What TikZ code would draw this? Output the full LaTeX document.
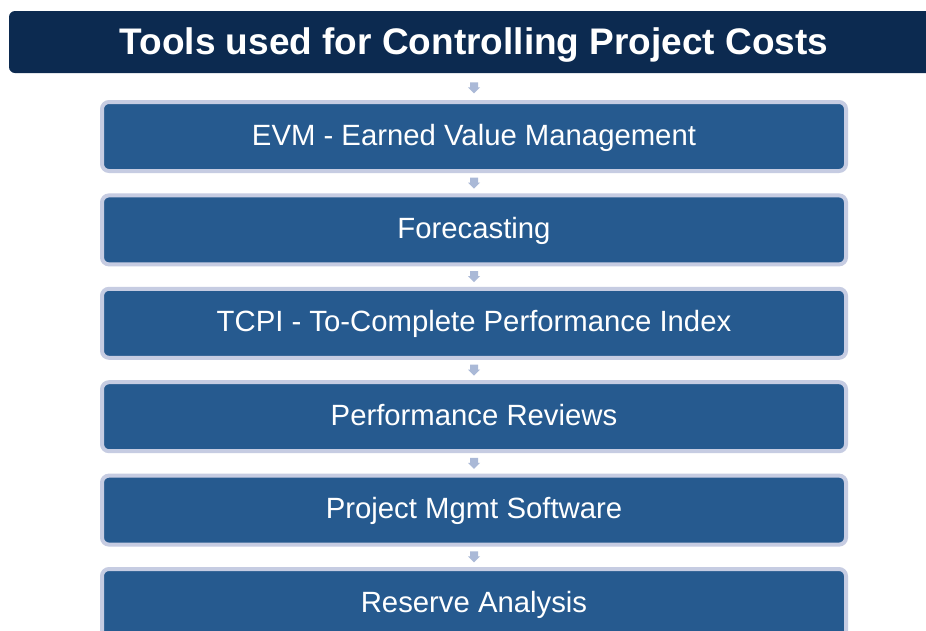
\documentclass[tikz,border=0pt]{standalone}
\usepackage{fontspec}
\setmainfont{Liberation Sans}
\usetikzlibrary{calc}
\definecolor{navy}{HTML}{0C2A50}
\definecolor{boxblue}{HTML}{265A8F}
\definecolor{ringcol}{HTML}{C6CCE2}
\definecolor{arrowcol}{HTML}{AAB9D7}
\tikzset{
  titlebox/.style={fill=navy, rounded corners=6pt, inner sep=0pt,
    minimum width=930pt, minimum height=62pt, text=white,
    font=\fontsize{37}{44}\selectfont\bfseries, text height=27pt, text depth=2pt},
  toolbox/.style={draw=ringcol, line width=4pt, fill=boxblue, rounded corners=7pt,
    inner sep=0pt, minimum width=744pt, minimum height=69pt, text=white,
    font=\fontsize{29.3}{34}\selectfont, text height=21pt, text depth=4pt},
  downarrow/.pic={\fill[arrowcol] (-4,-5.5) -- (4,-5.5) -- (4,-0.5) -- (6,-0.5) -- (0,5.5) -- (-6,-0.5) -- (-4,-0.5) -- cycle;}
}
\begin{document}
\begin{tikzpicture}[x=1pt,y=-1pt]
\clip (0,0) rectangle (926,630);
\fill[white] (0,0) rectangle (926,630);
\node[titlebox] (title) at (474,42) {Tools used for Controlling Project Costs};
\node[toolbox] (b1) at (474,136.5) {EVM - Earned Value Management};
\node[toolbox] (b2) at (474,229.9) {Forecasting};
\node[toolbox] (b3) at (474,323.3) {TCPI - To-Complete Performance Index};
\node[toolbox] (b4) at (474,416.7) {Performance Reviews};
\node[toolbox] (b5) at (474,510.1) {Project Mgmt Software};
\node[toolbox] (b6) at (474,603.5) {Reserve Analysis};
\path ($(title.south)!0.55!(b1.north)$) pic {downarrow};
\foreach \u/\v in {b1/b2,b2/b3,b3/b4,b4/b5,b5/b6}{
  \path ($(\u.south)!0.5!(\v.north)$) pic {downarrow};
}
\end{tikzpicture}
\end{document}
